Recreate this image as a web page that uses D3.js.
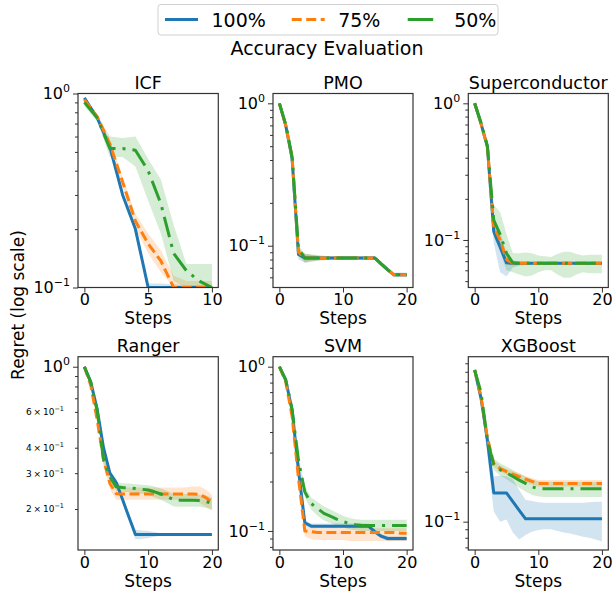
<!DOCTYPE html>
<html>
<head>
<meta charset="utf-8">
<script src="https://cdn.jsdelivr.net/npm/d3@7"></script>
<style>
  body { margin: 0; background: #fff; }
  svg { display: block; font-family: "DejaVu Sans", sans-serif; }
</style>
</head>
<body>
<svg id="chart" width="613" height="591"></svg>
<script>
// ---- series definitions ----
const seriesNames = ["100%", "75%", "50%"];
const seriesColors = ["#1f77b4", "#ff7f0e", "#2ca02c"];
const seriesDash = [null, "10,4.5", "21,7,3,7"];
const legendDash = [null, "10,4.5", "25.5,12"];

const stepsShort = [0, 1, 2, 3, 4, 5, 6, 7, 8, 9, 10];
const stepsLong = [0, 1, 2, 3, 4, 5, 6, 7, 8, 9, 10, 11, 12, 13, 14, 15, 16, 17, 18, 19, 20];

// ---- ICF ----
const icf100   = [0.95, 0.75, 0.53, 0.30, 0.20, 0.10, 0.10, 0.10, 0.10, 0.10, 0.10];
const icf100Lo = [0.94, 0.73, 0.51, 0.29, 0.195, 0.10, 0.10, 0.10, 0.10, 0.10, 0.10];
const icf100Hi = [0.96, 0.77, 0.55, 0.31, 0.205, 0.105, 0.105, 0.104, 0.103, 0.103, 0.103];
const icf75    = [0.93, 0.76, 0.55, 0.35, 0.22, 0.168, 0.137, 0.10, 0.10, 0.10, 0.10];
const icf75Lo  = [0.91, 0.74, 0.53, 0.33, 0.20, 0.15, 0.12, 0.10, 0.10, 0.10, 0.10];
const icf75Hi  = [0.95, 0.78, 0.57, 0.37, 0.24, 0.19, 0.155, 0.115, 0.108, 0.108, 0.108];
const icf50    = [0.90, 0.75, 0.52, 0.52, 0.51, 0.40, 0.27, 0.15, 0.122, 0.108, 0.10];
const icf50Lo  = [0.86, 0.72, 0.47, 0.47, 0.42, 0.28, 0.19, 0.108, 0.10, 0.10, 0.10];
const icf50Hi  = [0.93, 0.78, 0.60, 0.59, 0.60, 0.46, 0.36, 0.21, 0.132, 0.132, 0.132];

// ---- PMO ----
const pmo100   = [1.0, 0.70, 0.41, 0.087, 0.082, 0.082, 0.082, 0.082, 0.082, 0.082, 0.082, 0.082, 0.082, 0.082, 0.082, 0.082, 0.0745, 0.068, 0.0625, 0.0625, 0.0625];
const pmo100Lo = [0.98, 0.68, 0.40, 0.080, 0.076, 0.078, 0.079, 0.080, 0.080, 0.080, 0.080, 0.080, 0.080, 0.080, 0.080, 0.079, 0.072, 0.066, 0.060, 0.060, 0.060];
const pmo100Hi = [1.0, 0.72, 0.43, 0.095, 0.088, 0.086, 0.085, 0.084, 0.084, 0.084, 0.084, 0.084, 0.084, 0.084, 0.084, 0.085, 0.077, 0.071, 0.065, 0.065, 0.065];
const pmo75    = [1.0, 0.70, 0.42, 0.090, 0.082, 0.082, 0.082, 0.082, 0.082, 0.082, 0.082, 0.082, 0.082, 0.082, 0.082, 0.082, 0.0745, 0.068, 0.0625, 0.0625, 0.0625];
const pmo75Lo  = [0.98, 0.68, 0.41, 0.084, 0.077, 0.078, 0.079, 0.080, 0.080, 0.080, 0.080, 0.080, 0.080, 0.080, 0.080, 0.080, 0.072, 0.066, 0.061, 0.061, 0.061];
const pmo75Hi  = [1.0, 0.72, 0.43, 0.096, 0.088, 0.086, 0.085, 0.084, 0.084, 0.084, 0.084, 0.084, 0.084, 0.084, 0.084, 0.084, 0.077, 0.070, 0.064, 0.064, 0.064];
const pmo50    = [1.0, 0.71, 0.42, 0.095, 0.082, 0.082, 0.082, 0.082, 0.082, 0.082, 0.082, 0.082, 0.082, 0.082, 0.082, 0.082, 0.0745, 0.068, 0.0625, 0.0625, 0.0625];
const pmo50Lo  = [0.98, 0.69, 0.41, 0.088, 0.076, 0.077, 0.078, 0.079, 0.080, 0.080, 0.080, 0.080, 0.080, 0.080, 0.080, 0.080, 0.072, 0.066, 0.061, 0.061, 0.061];
const pmo50Hi  = [1.0, 0.73, 0.43, 0.100, 0.088, 0.087, 0.086, 0.085, 0.084, 0.084, 0.084, 0.084, 0.084, 0.084, 0.084, 0.084, 0.077, 0.070, 0.064, 0.064, 0.064];

// ---- Superconductor ----
const sc100   = [1.0, 0.71, 0.48, 0.115, 0.089, 0.068, 0.0675, 0.0675, 0.0675, 0.0675, 0.0675, 0.0675, 0.0675, 0.0675, 0.0675, 0.0675, 0.0675, 0.0675, 0.0675, 0.0675, 0.0675];
const sc100Lo = [0.98, 0.69, 0.46, 0.095, 0.058, 0.054, 0.063, 0.065, 0.066, 0.066, 0.066, 0.066, 0.066, 0.066, 0.066, 0.066, 0.066, 0.066, 0.066, 0.066, 0.066];
const sc100Hi = [1.0, 0.73, 0.50, 0.135, 0.115, 0.080, 0.071, 0.069, 0.069, 0.069, 0.069, 0.069, 0.069, 0.069, 0.069, 0.069, 0.069, 0.069, 0.069, 0.069, 0.069];
const sc75    = [1.0, 0.71, 0.48, 0.125, 0.100, 0.072, 0.0675, 0.0675, 0.0675, 0.0675, 0.0675, 0.0675, 0.0675, 0.0675, 0.0675, 0.0675, 0.0675, 0.0675, 0.0675, 0.0675, 0.0675];
const sc75Lo  = [0.98, 0.69, 0.46, 0.115, 0.092, 0.066, 0.065, 0.066, 0.066, 0.066, 0.066, 0.066, 0.066, 0.066, 0.066, 0.066, 0.066, 0.066, 0.066, 0.066, 0.066];
const sc75Hi  = [1.0, 0.73, 0.50, 0.135, 0.108, 0.078, 0.070, 0.069, 0.069, 0.069, 0.069, 0.069, 0.069, 0.069, 0.069, 0.069, 0.069, 0.069, 0.069, 0.069, 0.069];
const sc50    = [1.0, 0.72, 0.49, 0.140, 0.110, 0.080, 0.068, 0.0675, 0.0675, 0.0675, 0.0675, 0.0675, 0.0675, 0.0675, 0.0675, 0.0675, 0.0675, 0.0675, 0.0675, 0.0675, 0.0675];
const sc50Lo  = [0.98, 0.70, 0.47, 0.105, 0.082, 0.060, 0.058, 0.056, 0.054, 0.055, 0.058, 0.060, 0.060, 0.056, 0.053, 0.053, 0.056, 0.058, 0.057, 0.057, 0.057];
const sc50Hi  = [1.0, 0.74, 0.51, 0.180, 0.160, 0.110, 0.080, 0.080, 0.081, 0.080, 0.077, 0.076, 0.075, 0.079, 0.082, 0.082, 0.079, 0.077, 0.078, 0.078, 0.078];

// ---- Ranger ----
const rg100   = [1.0, 0.84, 0.62, 0.40, 0.30, 0.27, 0.222, 0.182, 0.150, 0.150, 0.150, 0.150, 0.150, 0.150, 0.150, 0.150, 0.150, 0.150, 0.150, 0.150, 0.150];
const rg100Lo = [0.99, 0.82, 0.60, 0.39, 0.29, 0.26, 0.215, 0.176, 0.142, 0.143, 0.144, 0.146, 0.148, 0.149, 0.149, 0.149, 0.149, 0.149, 0.149, 0.149, 0.149];
const rg100Hi = [1.0, 0.86, 0.64, 0.41, 0.31, 0.28, 0.229, 0.188, 0.158, 0.157, 0.156, 0.154, 0.152, 0.151, 0.151, 0.151, 0.151, 0.151, 0.151, 0.151, 0.151];
const rg75    = [1.0, 0.81, 0.55, 0.35, 0.267, 0.238, 0.237, 0.237, 0.237, 0.237, 0.237, 0.237, 0.237, 0.237, 0.237, 0.237, 0.237, 0.237, 0.236, 0.228, 0.217];
const rg75Lo  = [0.99, 0.79, 0.53, 0.33, 0.25, 0.222, 0.222, 0.222, 0.222, 0.222, 0.222, 0.222, 0.222, 0.222, 0.222, 0.222, 0.222, 0.220, 0.215, 0.205, 0.198];
const rg75Hi  = [1.0, 0.83, 0.57, 0.37, 0.285, 0.255, 0.255, 0.255, 0.255, 0.255, 0.255, 0.255, 0.255, 0.255, 0.255, 0.255, 0.256, 0.258, 0.258, 0.250, 0.235];
const rg50    = [1.0, 0.84, 0.61, 0.35, 0.288, 0.257, 0.255, 0.254, 0.252, 0.250, 0.248, 0.243, 0.237, 0.230, 0.222, 0.221, 0.221, 0.221, 0.220, 0.218, 0.213];
const rg50Lo  = [0.99, 0.82, 0.59, 0.33, 0.275, 0.245, 0.243, 0.242, 0.240, 0.238, 0.235, 0.228, 0.222, 0.214, 0.206, 0.205, 0.205, 0.205, 0.205, 0.203, 0.198];
const rg50Hi  = [1.0, 0.86, 0.63, 0.37, 0.30, 0.270, 0.268, 0.267, 0.265, 0.263, 0.262, 0.258, 0.252, 0.245, 0.238, 0.237, 0.237, 0.237, 0.235, 0.233, 0.228];

// ---- SVM ----
const svm100   = [1.0, 0.83, 0.545, 0.235, 0.112, 0.107, 0.107, 0.107, 0.107, 0.107, 0.107, 0.107, 0.107, 0.107, 0.107, 0.099, 0.093, 0.090, 0.090, 0.090, 0.090];
const svm100Lo = [0.99, 0.81, 0.52, 0.22, 0.108, 0.104, 0.104, 0.104, 0.104, 0.104, 0.104, 0.104, 0.104, 0.104, 0.104, 0.096, 0.090, 0.087, 0.087, 0.087, 0.087];
const svm100Hi = [1.0, 0.85, 0.57, 0.25, 0.117, 0.111, 0.111, 0.111, 0.111, 0.111, 0.111, 0.111, 0.111, 0.111, 0.111, 0.102, 0.096, 0.093, 0.093, 0.093, 0.093];
const svm75    = [1.0, 0.81, 0.50, 0.21, 0.100, 0.099, 0.098, 0.098, 0.098, 0.098, 0.098, 0.098, 0.098, 0.098, 0.098, 0.098, 0.098, 0.098, 0.098, 0.097, 0.097];
const svm75Lo  = [0.99, 0.79, 0.48, 0.20, 0.093, 0.089, 0.088, 0.088, 0.088, 0.088, 0.088, 0.087, 0.087, 0.087, 0.087, 0.087, 0.087, 0.087, 0.087, 0.087, 0.087];
const svm75Hi  = [1.0, 0.83, 0.52, 0.22, 0.107, 0.105, 0.104, 0.104, 0.104, 0.104, 0.104, 0.104, 0.104, 0.104, 0.104, 0.104, 0.104, 0.104, 0.104, 0.104, 0.104];
const svm50    = [1.0, 0.83, 0.55, 0.27, 0.173, 0.147, 0.137, 0.128, 0.123, 0.118, 0.114, 0.111, 0.109, 0.108, 0.108, 0.108, 0.108, 0.108, 0.108, 0.108, 0.108];
const svm50Lo  = [0.99, 0.81, 0.53, 0.255, 0.160, 0.135, 0.124, 0.116, 0.112, 0.108, 0.105, 0.102, 0.101, 0.100, 0.100, 0.100, 0.100, 0.100, 0.100, 0.100, 0.100];
const svm50Hi  = [1.0, 0.85, 0.57, 0.285, 0.188, 0.160, 0.150, 0.141, 0.135, 0.129, 0.124, 0.120, 0.118, 0.117, 0.117, 0.117, 0.117, 0.117, 0.117, 0.117, 0.117];

// ---- XGBoost ----
const xgb100   = [0.82, 0.553, 0.31, 0.149, 0.149, 0.149, 0.132, 0.117, 0.104, 0.104, 0.104, 0.104, 0.104, 0.104, 0.104, 0.104, 0.104, 0.104, 0.104, 0.104, 0.104];
const xgb100Lo = [0.80, 0.52, 0.25, 0.115, 0.100, 0.103, 0.086, 0.078, 0.083, 0.087, 0.089, 0.090, 0.090, 0.088, 0.086, 0.085, 0.083, 0.081, 0.080, 0.078, 0.076];
const xgb100Hi = [0.84, 0.59, 0.36, 0.187, 0.190, 0.188, 0.180, 0.155, 0.135, 0.133, 0.131, 0.130, 0.130, 0.130, 0.130, 0.130, 0.130, 0.130, 0.131, 0.132, 0.132];
const xgb75    = [0.82, 0.565, 0.32, 0.224, 0.209, 0.200, 0.193, 0.187, 0.180, 0.175, 0.170, 0.170, 0.170, 0.170, 0.170, 0.170, 0.170, 0.170, 0.170, 0.170, 0.170];
const xgb75Lo  = [0.80, 0.55, 0.31, 0.215, 0.200, 0.192, 0.185, 0.179, 0.172, 0.167, 0.163, 0.163, 0.163, 0.163, 0.163, 0.163, 0.163, 0.163, 0.163, 0.163, 0.163];
const xgb75Hi  = [0.84, 0.58, 0.33, 0.233, 0.218, 0.208, 0.201, 0.195, 0.188, 0.183, 0.178, 0.178, 0.178, 0.178, 0.178, 0.178, 0.178, 0.178, 0.178, 0.178, 0.178];
const xgb50    = [0.82, 0.60, 0.31, 0.220, 0.205, 0.197, 0.187, 0.178, 0.170, 0.162, 0.158, 0.158, 0.158, 0.158, 0.158, 0.158, 0.158, 0.158, 0.158, 0.158, 0.158];
const xgb50Lo  = [0.80, 0.57, 0.29, 0.205, 0.190, 0.180, 0.170, 0.160, 0.152, 0.145, 0.142, 0.141, 0.141, 0.141, 0.141, 0.141, 0.141, 0.141, 0.141, 0.141, 0.141];
const xgb50Hi  = [0.84, 0.63, 0.33, 0.240, 0.225, 0.215, 0.205, 0.195, 0.187, 0.180, 0.175, 0.174, 0.174, 0.174, 0.174, 0.174, 0.174, 0.174, 0.174, 0.174, 0.174];

const xTicksShort = [0, 5, 10];
const xTicksLong = [0, 10, 20];
const rangerMinorLabels = [2, 3, 4, 6];

// ---- panel setup ----
const cols = [[78, 218.3], [273, 413], [468.3, 608.3]];
const rows = [[93.5, 287.5], [356.7, 550]];

const panels = [
  { title: "ICF", col: 0, row: 0, steps: stepsShort, xDomain: [-0.5, 10.5], xTicks: xTicksShort, yDomain: [0.1, 1.0],
    series: [[icf100, icf100Lo, icf100Hi], [icf75, icf75Lo, icf75Hi], [icf50, icf50Lo, icf50Hi]] },
  { title: "PMO", col: 1, row: 0, steps: stepsLong, xDomain: [-1, 21], xTicks: xTicksLong, yDomain: [0.0509, 1.172],
    series: [[pmo100, pmo100Lo, pmo100Hi], [pmo75, pmo75Lo, pmo75Hi], [pmo50, pmo50Lo, pmo50Hi]] },
  { title: "Superconductor", col: 2, row: 0, steps: stepsLong, xDomain: [-1, 21], xTicks: xTicksLong, yDomain: [0.0449, 1.18],
    series: [[sc100, sc100Lo, sc100Hi], [sc75, sc75Lo, sc75Hi], [sc50, sc50Lo, sc50Hi]] },
  { title: "Ranger", col: 0, row: 1, steps: stepsLong, xDomain: [-1, 21], xTicks: xTicksLong, yDomain: [0.1258, 1.12],
    minorLabels: rangerMinorLabels,
    series: [[rg100, rg100Lo, rg100Hi], [rg75, rg75Lo, rg75Hi], [rg50, rg50Lo, rg50Hi]] },
  { title: "SVM", col: 1, row: 1, steps: stepsLong, xDomain: [-1, 21], xTicks: xTicksLong, yDomain: [0.0766, 1.15],
    series: [[svm100, svm100Lo, svm100Hi], [svm75, svm75Lo, svm75Hi], [svm50, svm50Lo, svm50Hi]] },
  { title: "XGBoost", col: 2, row: 1, steps: stepsLong, xDomain: [-1, 21], xTicks: xTicksLong, yDomain: [0.0675, 0.986],
    series: [[xgb100, xgb100Lo, xgb100Hi], [xgb75, xgb75Lo, xgb75Hi], [xgb50, xgb50Lo, xgb50Hi]] }
];

const svg = d3.select("#chart");
const axisColor = "#333";

panels.forEach((p, i) => {
  const [x0, x1] = cols[p.col];
  const [y0, y1] = rows[p.row];
  const x = d3.scaleLinear().domain(p.xDomain).range([x0, x1]);
  const y = d3.scaleLog().domain(p.yDomain).range([y1, y0]);

  const clipId = "clip" + i;
  svg.append("clipPath").attr("id", clipId)
    .append("rect").attr("x", x0).attr("y", y0).attr("width", x1 - x0).attr("height", y1 - y0);

  const plot = svg.append("g").attr("clip-path", `url(#${clipId})`);

  // uncertainty bands underneath every line
  p.series.forEach(([mean, lo, hi], s) => {
    const area = d3.area()
      .x((d, k) => x(p.steps[k]))
      .y0((d, k) => y(lo[k]))
      .y1((d, k) => y(hi[k]));
    plot.append("path").datum(mean).attr("d", area)
      .attr("fill", seriesColors[s]).attr("fill-opacity", 0.2).attr("stroke", "none");
  });

  p.series.forEach(([mean], s) => {
    const line = d3.line().x((d, k) => x(p.steps[k])).y(d => y(d));
    plot.append("path").datum(mean).attr("d", line)
      .attr("fill", "none").attr("stroke", seriesColors[s]).attr("stroke-width", 3)
      .attr("stroke-linejoin", "round")
      .attr("stroke-dasharray", seriesDash[s]);
  });

  // x axis
  const gx = svg.append("g").attr("transform", `translate(0,${y1})`)
    .call(d3.axisBottom(x).tickValues(p.xTicks).tickSize(5).tickPadding(1.5).tickFormat(d3.format("d")));
  gx.select(".domain").remove();
  gx.selectAll("line").attr("stroke", axisColor).attr("stroke-width", 1);
  gx.selectAll("text").attr("font-size", 16).attr("fill", "#000")
    .attr("font-family", "DejaVu Sans, sans-serif");

  // y axis (log, with minor ticks)
  const [dLo, dHi] = p.yDomain;
  const yTicks = y.ticks().filter(v => v >= dLo * 0.9999 && v <= dHi * 1.0001);
  const isMajor = v => Math.abs(Math.log10(v) - Math.round(Math.log10(v))) < 1e-6;
  const gy = svg.append("g").attr("transform", `translate(${x0},0)`)
    .call(d3.axisLeft(y).tickValues(yTicks).tickSize(5).tickPadding(3));
  gy.select(".domain").remove();
  gy.selectAll(".tick line").attr("stroke", axisColor).attr("stroke-width", 1)
    .attr("x2", d => isMajor(d) ? -5 : -3);
  gy.selectAll(".tick text").each(function (d) {
    const t = d3.select(this).attr("fill", "#000").attr("font-family", "DejaVu Sans, sans-serif");
    t.text(null);
    const exp = Math.round(Math.log10(d));
    if (isMajor(d)) {
      t.attr("font-size", 16).attr("x", -8);
      t.append("tspan").text("10");
      t.append("tspan").attr("dy", -7).attr("font-size", 11).text(exp < 0 ? "\u2212" + (-exp) : String(exp));
    } else if (p.minorLabels) {
      const e = Math.floor(Math.log10(d) + 1e-9);
      const mant = Math.round(d / Math.pow(10, e));
      if (p.minorLabels.includes(mant)) {
        t.attr("font-size", 9).attr("x", -14);
        t.append("tspan").text(mant + "\u2009\u00d7\u200910");
        t.append("tspan").attr("dy", -4).attr("font-size", 6.5).text(e < 0 ? "\u2212" + (-e) : String(e));
      }
    }
  });

  // axes frame
  svg.append("rect").attr("x", x0).attr("y", y0).attr("width", x1 - x0).attr("height", y1 - y0)
    .attr("fill", "none").attr("stroke", axisColor).attr("stroke-width", 1.2);

  // titles and axis labels
  svg.append("text").attr("x", (x0 + x1) / 2).attr("y", y0 - 5)
    .attr("text-anchor", "middle").attr("font-size", 17.5).text(p.title);
  svg.append("text").attr("x", (x0 + x1) / 2).attr("y", y1 + 36.5)
    .attr("text-anchor", "middle").attr("font-size", 17).text("Steps");
});

// shared y label
svg.append("text").attr("transform", "translate(24,305) rotate(-90)")
  .attr("text-anchor", "middle").attr("font-size", 17).text("Regret (log scale)");

// legend
const legend = svg.append("g");
legend.append("rect").attr("x", 158).attr("y", 4.5).attr("width", 340).attr("height", 30.5).attr("rx", 3)
  .attr("fill", "#fff").attr("stroke", "#d0d0d0").attr("stroke-width", 1);
const legendX = [165, 291.7, 407.7];
seriesNames.forEach((name, s) => {
  legend.append("line").attr("x1", legendX[s]).attr("x2", legendX[s] + 33).attr("y1", 19.5).attr("y2", 19.5)
    .attr("stroke", seriesColors[s]).attr("stroke-width", 3).attr("stroke-dasharray", legendDash[s]);
  legend.append("text").attr("x", legendX[s] + 46.5).attr("y", 26.5).attr("font-size", 19).text(name);
});

svg.append("text").attr("x", 327).attr("y", 55).attr("text-anchor", "middle")
  .attr("font-size", 19).text("Accuracy Evaluation");
</script>
</body>
</html>
